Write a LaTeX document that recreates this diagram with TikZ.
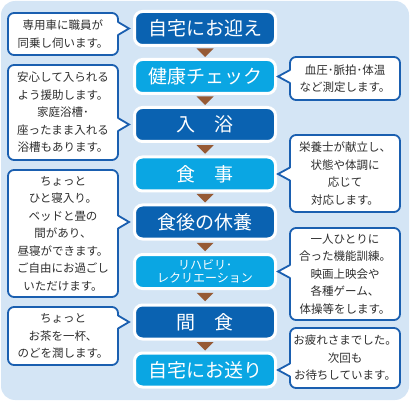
\documentclass[tikz,border=0pt]{standalone}
\usepackage{fontspec}
\setmainfont{Noto Sans CJK JP}
\usetikzlibrary{calc}
\definecolor{bgblue}{HTML}{D4E5F5}
\definecolor{boxdark}{HTML}{0A62B1}
\definecolor{boxlight}{HTML}{0AA6E3}
\definecolor{tribrown}{HTML}{965A35}
\definecolor{lineblue}{HTML}{1A5FB0}
\definecolor{txtgray}{HTML}{2E2E2E}
\tikzset{
  stepbox/.style={rectangle, rounded corners=8pt, draw=white, line width=3pt,
    minimum width=141pt, minimum height=34pt, inner sep=0pt, outer sep=0pt,
    text=white, font=\fontsize{19}{22}\selectfont},
  darkbox/.style={stepbox, fill=boxdark},
  lightbox/.style={stepbox, fill=boxlight},
  callout/.style={rectangle, rounded corners=6pt, draw=lineblue, line width=1.8pt,
    fill=white, minimum width=110pt, text width=106pt, align=center,
    inner sep=0pt, outer sep=0pt, text=txtgray, font=\fontsize{11.5}{17.5}\selectfont},
  arrowtri/.style={fill=tribrown},
  ptrline/.style={draw=lineblue, line width=1.8pt, line join=miter}
}
\newcommand\ptrtoright[2]{%
  \coordinate (tmpP) at (#1.east |- #2.center);
  \fill[white] ($(tmpP)+(-1.6,-6.5)$) -- ($(tmpP)+(11,0)$) -- ($(tmpP)+(-1.6,6.5)$) -- cycle;
  \draw[ptrline] ($(tmpP)+(0,-6.5)$) -- ($(tmpP)+(11,0)$) -- ($(tmpP)+(0,6.5)$);}
\newcommand\ptrtoleft[2]{%
  \coordinate (tmpP) at (#1.west |- #2.center);
  \fill[white] ($(tmpP)+(1.6,-6.5)$) -- ($(tmpP)+(-12,0)$) -- ($(tmpP)+(1.6,6.5)$) -- cycle;
  \draw[ptrline] ($(tmpP)+(0,-6.5)$) -- ($(tmpP)+(-12,0)$) -- ($(tmpP)+(0,6.5)$);}
\begin{document}
\begin{tikzpicture}[x=1pt,y=-1pt]
\useasboundingbox (0,0) rectangle (410,401);
\fill[bgblue, rounded corners=14pt] (1,1) rectangle (409,400);

% main steps
\node[darkbox]  (b1) at (205,28.5) {自宅にお迎え};
\node[lightbox] (b2) at (205,76.5) {健康チェック};
\node[darkbox]  (b3) at (205,124.5) {入　浴};
\node[lightbox] (b4) at (205,174) {食　事};
\node[darkbox]  (b5) at (205,222) {食後の休養};
\node[lightbox, align=center, font=\fontsize{12}{13.5}\selectfont] (b6) at (205,271.5) {リハビリ･\\レクリエーション};
\node[darkbox]  (b7) at (205,322) {間　食};
\node[lightbox] (b8) at (205,370) {自宅にお送り};

\foreach \a/\b in {b1/b2,b2/b3,b3/b4,b4/b5,b5/b6,b6/b7,b7/b8}
  \fill[arrowtri] ($(\a.south)!0.5!(\b.north)+(-8.5,-4)$) -- ($(\a.south)!0.5!(\b.north)+(8.5,-4)$) -- ($(\a.south)!0.5!(\b.north)+(0,4.5)$) -- cycle;

% left callouts
\node[callout, minimum height=42pt] (L1) at (63,34) {専用車に職員が\\同乗し伺います。};
\node[callout, minimum height=95pt] (L2) at (63,112.5) {安心して入られる\\よう援助します。\\家庭浴槽･\\座ったまま入れる\\浴槽もあります。};
\node[callout, minimum height=127pt] (L3) at (63,233.5) {ちょっと\\ひと寝入り。\\ベッドと畳の\\間があり、\\昼寝ができます。\\ご自由にお過ごし\\いただけます。};
\node[callout, minimum height=58pt] (L4) at (63,336) {ちょっと\\お茶を一杯、\\のどを潤します。};

% right callouts
\node[callout, minimum height=43pt] (R1) at (345,78.5) {血圧･脈拍･体温\\など測定します。};
\node[callout, minimum height=77pt] (R2) at (345,173.5) {栄養士が献立し、\\状態や体調に\\応じて\\対応します。};
\node[callout, minimum height=92pt] (R3) at (345,274) {一人ひとりに\\合った機能訓練。\\映画上映会や\\各種ゲーム、\\体操等をします。};
\node[callout, minimum height=60pt] (R4) at (345,358) {お疲れさまでした。\\次回も\\お待ちしています。};

\ptrtoright{L1}{b1}
\ptrtoright{L2}{b3}
\ptrtoright{L3}{b5}
\ptrtoright{L4}{b7}
\ptrtoleft{R1}{b2}
\ptrtoleft{R2}{b4}
\ptrtoleft{R3}{b6}
\ptrtoleft{R4}{b8}
\end{tikzpicture}
\end{document}
